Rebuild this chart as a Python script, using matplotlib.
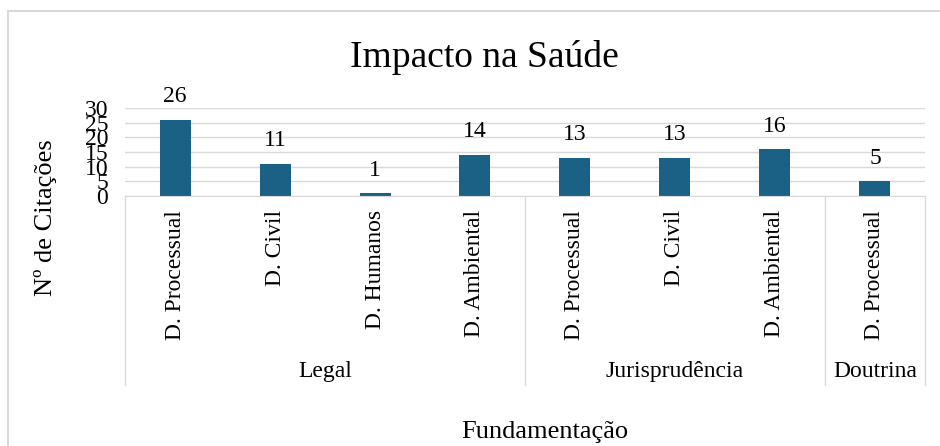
import matplotlib.pyplot as plt
from matplotlib.patches import Rectangle
from matplotlib.transforms import blended_transform_factory

plt.rcParams['font.family'] = ['Liberation Serif', 'DejaVu Serif']

# data
categorias = ['D. Processual', 'D. Civil', 'D. Humanos', 'D. Ambiental',
              'D. Processual', 'D. Civil', 'D. Ambiental',
              'D. Processual']
citacoes = [26, 11, 1, 14, 13, 13, 16, 5]
grupos = ['Legal', 'Jurisprudência', 'Doutrina']
tamanho_grupos = [4, 3, 1]

cor_barra = '#1b6185'
cinza = '#d9d9d9'

fig = plt.figure(figsize=(9.4, 4.46), dpi=100)
ax = fig.add_axes([0.133, 0.5605, 0.851, 0.1975])

x = list(range(len(categorias)))
bars = ax.bar(x, citacoes, width=0.31, color=cor_barra)
ax.bar_label(bars, padding=9, fontsize=17)

ax.set_xlim(-0.5, len(categorias) - 0.5)
ax.set_ylim(0, 30)
ax.set_yticks(range(0, 31, 5))
ax.tick_params(axis='y', length=0, labelsize=17, pad=12)
ax.set_xticks(x)
ax.set_xticklabels(categorias, rotation=90, fontsize=17, va='top')
ax.tick_params(axis='x', length=0, pad=10)
ax.grid(axis='y', color=cinza, linewidth=1)
ax.set_axisbelow(True)
for s in ['top', 'right', 'left']:
    ax.spines[s].set_visible(False)
ax.spines['bottom'].set_color(cinza)

# group separators and labels
trans = blended_transform_factory(ax.transData, fig.transFigure)
y_top, y_bot = 0.5605, 0.137
pos = -0.5
ax.plot([pos, pos], [y_top, y_bot], transform=trans, color=cinza, lw=1, clip_on=False)
for g, n in zip(grupos, tamanho_grupos):
    ax.text(pos + n / 2, 0.166, g, transform=trans, ha='center', va='center', fontsize=17)
    pos += n
    ax.plot([pos, pos], [y_top, y_bot], transform=trans, color=cinza, lw=1, clip_on=False)

fig.text(0.515, 0.872, 'Impacto na Saúde', ha='center', va='center', fontsize=27)
fig.text(0.048, 0.511, 'Nº de Citações', ha='center', va='center', rotation=90, fontsize=19)
fig.text(0.58, 0.031, 'Fundamentação', ha='center', va='center', fontsize=19)

# outer chart border
fig.patches.append(Rectangle((0.0085, -0.1), 1.2, 1.075, transform=fig.transFigure,
                             fill=False, edgecolor=cinza, lw=1.5))

fig.savefig('out.png', dpi=100)
